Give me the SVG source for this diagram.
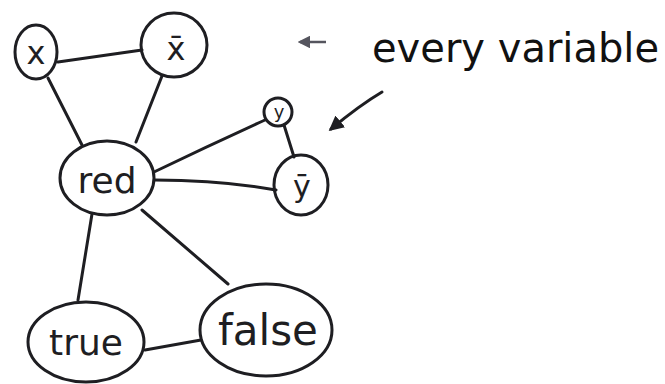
<svg xmlns="http://www.w3.org/2000/svg" width="665" height="384" viewBox="0 0 665 384">
<defs>
<style>
.n{fill:none;stroke:#1e1e22;stroke-width:3}
.e{fill:none;stroke:#1e1e22;stroke-width:3;stroke-linecap:round}
.t{font-family:"DejaVu Sans","Liberation Sans",sans-serif;fill:#1e1e22;text-anchor:middle}
.a{fill:none;stroke:#1e1e22;stroke-width:3;stroke-linecap:round}
.lbl{font-family:"DejaVu Sans","Liberation Sans",sans-serif;fill:#111}
</style>
<marker id="ah" viewBox="0 0 10 10" refX="8" refY="5" markerWidth="5" markerHeight="5" orient="auto-start-reverse">
<path d="M0,0 L10,5 L0,10 z" fill="#1e1e22"/>
</marker>
<marker id="ah2" viewBox="0 0 10 10" refX="8" refY="5" markerWidth="5" markerHeight="5" orient="auto-start-reverse">
<path d="M0,0 L10,5 L0,10 z" fill="#55555e"/>
</marker>
</defs>
<rect width="665" height="384" fill="#ffffff"/>
<g id="connectors">
<path class="e" d="M58,62 L142,50"/>
<path class="e" d="M48,78 L82,145"/>
<path class="e" d="M162,76 L136,142"/>
<path class="e" d="M154,172 Q210,145 265,120"/>
<path class="e" d="M155,180 Q220,180 276,190"/>
<path class="e" d="M284,125 L294,157"/>
<path class="e" d="M92,214 L78,300"/>
<path class="e" d="M142,210 L228,284"/>
<path class="e" d="M145,350 L201,340"/>
</g>
<g id="node-x">
<ellipse class="n" cx="36" cy="52" rx="21" ry="27"/>
<text class="t" x="36" y="64" font-size="32">x</text>
</g>
<g id="node-xbar">
<ellipse class="n" cx="174" cy="45" rx="33" ry="32"/>
<text class="t" x="176" y="60" font-size="32">x̄</text>
</g>
<g id="node-red">
<ellipse class="n" cx="107" cy="178" rx="47" ry="37"/>
<text class="t" x="107" y="193" font-size="36">red</text>
</g>
<g id="node-y">
<ellipse class="n" cx="278" cy="112" rx="14" ry="14"/>
<text class="t" x="279" y="118" font-size="18">y</text>
</g>
<g id="node-ybar">
<ellipse class="n" cx="301" cy="185" rx="27" ry="30"/>
<text class="t" x="302" y="197" font-size="30">ȳ</text>
</g>
<g id="node-true">
<ellipse class="n" cx="86" cy="342" rx="58" ry="40"/>
<text class="t" x="86" y="355" font-size="36">true</text>
</g>
<g id="node-false">
<ellipse class="n" cx="266" cy="330" rx="66" ry="46"/>
<text class="t" x="268" y="345" font-size="42">false</text>
</g>
<g id="annotation">
<path d="M326,42 L300,42" fill="none" stroke="#55555e" stroke-width="2.5" marker-end="url(#ah2)"/>
<text class="lbl" x="372" y="62" font-size="40">every variable</text>
<path class="a" d="M382,92 Q360,105 331,129" marker-end="url(#ah)"/>
</g>
</svg>
